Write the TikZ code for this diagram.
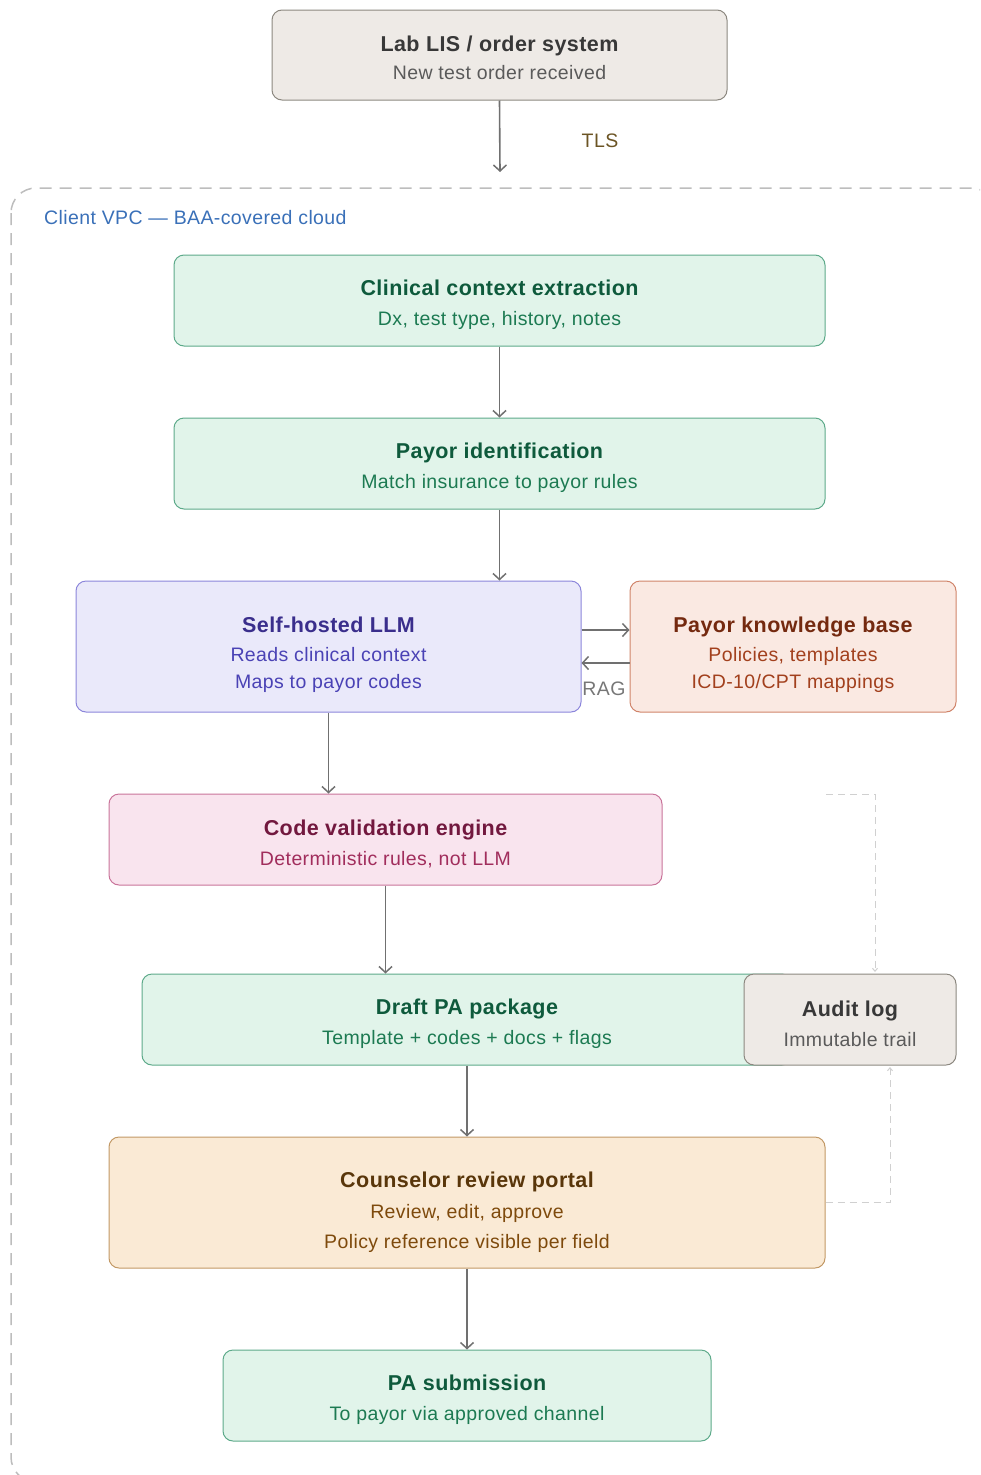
\documentclass[tikz,border=0pt]{standalone}
\usepackage{fontspec}
\setmainfont{Liberation Sans}
\newfontfamily\subfam[LetterSpace=2.0]{Liberation Sans}
\usetikzlibrary{arrows.meta}
\definecolor{labfill}{HTML}{EEEAE6}\definecolor{labdraw}{HTML}{8C8880}
\definecolor{labtitle}{HTML}{383838}\definecolor{labsub}{HTML}{5A5A5A}
\definecolor{grfill}{HTML}{E1F4EA}\definecolor{grdraw}{HTML}{5DAA8A}
\definecolor{grtitle}{HTML}{0E5A3C}\definecolor{grsub}{HTML}{1C7A52}
\definecolor{pufill}{HTML}{EAE9FA}\definecolor{pudraw}{HTML}{8C86DB}
\definecolor{putitle}{HTML}{3A2E8C}\definecolor{pusub}{HTML}{4A42B5}
\definecolor{orfill}{HTML}{FAE9E2}\definecolor{ordraw}{HTML}{D0846A}
\definecolor{ortitle}{HTML}{74290F}\definecolor{orsub}{HTML}{A2401D}
\definecolor{pkfill}{HTML}{F9E4EE}\definecolor{pkdraw}{HTML}{C9749A}
\definecolor{pktitle}{HTML}{72183E}\definecolor{pksub}{HTML}{A12D5C}
\definecolor{yefill}{HTML}{FAEAD5}\definecolor{yedraw}{HTML}{C29865}
\definecolor{yetitle}{HTML}{59360A}\definecolor{yesub}{HTML}{7E4A0C}
\definecolor{arrowgray}{HTML}{707070}\definecolor{vpcgray}{HTML}{BDBDBD}
\definecolor{auditgray}{HTML}{D0D0D0}\definecolor{tlscol}{HTML}{6B5424}
\definecolor{vpcblue}{HTML}{3A70B8}\definecolor{raggray}{HTML}{777777}
\newcommand{\ttl}{\fontsize{21.5}{30}\selectfont\bfseries\rule{0pt}{25pt}}
\newcommand{\ttla}{\fontsize{21.5}{30}\selectfont\bfseries\rule{0pt}{22pt}}
\newcommand{\ttlc}{\fontsize{21.5}{30}\selectfont\bfseries\rule{0pt}{33pt}}
\newcommand{\ttld}{\fontsize{21.5}{30}\selectfont\bfseries\rule{0pt}{36pt}}
\tikzset{
  box/.style={draw, rounded corners=10pt, line width=1pt, align=center, inner sep=0pt,
    font=\subfam\fontsize{19.5}{30}\selectfont},
  labbox/.style={box, fill=labfill, draw=labdraw},
  grbox/.style={box, fill=grfill, draw=grdraw},
  pubox/.style={box, fill=pufill, draw=pudraw},
  orbox/.style={box, fill=orfill, draw=ordraw},
  pkbox/.style={box, fill=pkfill, draw=pkdraw},
  yebox/.style={box, fill=yefill, draw=yedraw},
  lbl/.style={inner sep=0pt, font=\subfam\fontsize{19.5}{24}\selectfont},
  arr/.style={draw=arrowgray, line width=1.6pt, -{Straight Barb[length=6pt,width=13pt,line width=1.5pt]}},
  auditarr/.style={draw=auditgray, line width=1pt, dash pattern=on 7pt off 5pt, -{Straight Barb[length=3pt,width=5pt]}},
}
\begin{document}
\begin{tikzpicture}[x=1pt,y=-1pt]
\useasboundingbox (0,0) rectangle (980,1475);
\begin{scope}
\clip (0,0) rectangle (980,1475);
\draw[vpcgray, line width=1.5pt, dash pattern=on 12pt off 8pt, rounded corners=25pt] (11,188) rectangle (996,1482);
\end{scope}
\node[lbl, anchor=west, text=vpcblue] (vpclbl) at (44,218) {Client VPC — BAA-covered cloud};

\node[labbox, minimum width=455pt, minimum height=90pt] (lab) at (499.5,55)
  {{\ttla\color{labtitle}Lab LIS / order system}\\[-2pt]{\color{labsub}New test order received}};
\coordinate (vpcin) at (500,172);
\draw[arr] (lab.south) -- (vpcin);
\node[lbl, text=tlscol] (tls) at (600,141) {TLS};

\node[grbox, minimum width=651pt, minimum height=91pt] (cce) at (499.5,300.5)
  {{\ttl\color{grtitle}Clinical context extraction}\\{\color{grsub}Dx, test type, history, notes}};
\node[grbox, minimum width=651pt, minimum height=91pt] (pid) at (499.5,463.5)
  {{\ttl\color{grtitle}Payor identification}\\{\color{grsub}Match insurance to payor rules}};
\node[pubox, minimum width=505pt, minimum height=131pt] (llm) at (328.5,646.5)
  {{\ttlc\color{putitle}Self-hosted LLM}\\[-1pt]{\color{pusub}Reads clinical context}\\[-3pt]{\color{pusub}Maps to payor codes}};
\node[orbox, minimum width=326pt, minimum height=131pt] (kb) at (793,646.5)
  {{\ttlc\color{ortitle}Payor knowledge base}\\[-1pt]{\color{orsub}Policies, templates}\\[-3pt]{\color{orsub}ICD-10/CPT mappings}};
\node[pkbox, minimum width=553pt, minimum height=91pt] (cve) at (385.5,839.5)
  {{\ttl\color{pktitle}Code validation engine}\\{\color{pksub}Deterministic rules, not LLM}};
\node[grbox, minimum width=650pt, minimum height=91pt] (dpa) at (467,1019.5)
  {{\ttl\color{grtitle}Draft PA package}\\{\color{grsub}Template + codes + docs + flags}};
\node[labbox, minimum width=212pt, minimum height=91pt] (audit) at (850,1019.5)
  {{\ttl\color{labtitle}Audit log}\\{\color{labsub}Immutable trail}};
\node[yebox, minimum width=716pt, minimum height=131pt] (crp) at (467,1202.5)
  {{\ttld\color{yetitle}Counselor review portal}\\[1pt]{\color{yesub}Review, edit, approve}\\{\color{yesub}Policy reference visible per field}};
\node[grbox, minimum width=488pt, minimum height=91pt] (pas) at (467,1395.5)
  {{\ttl\color{grtitle}PA submission}\\{\color{grsub}To payor via approved channel}};

\draw[arr] (cce.south) -- (pid.north);
\draw[arr] (pid.south) -- (pid.south |- llm.north);
\draw[arr] ([yshift=16.5pt]llm.east) -- ([yshift=16.5pt]kb.west);
\draw[arr] ([yshift=-16.5pt]kb.west) -- ([yshift=-16.5pt]llm.east);
\node[lbl, text=raggray] (rag) at (604,689) {RAG};
\draw[arr] (llm.south) -- (llm.south |- cve.north);
\draw[arr] (cve.south) -- (cve.south |- dpa.north);
\draw[arr] (dpa.south) -- (crp.north);
\draw[arr] (crp.south) -- (pas.north);

\coordinate (auditsrc) at (826,794);
\draw[auditarr] (auditsrc) -- (875,794) -- (875 ,972);
\draw[auditarr] (crp.east |- 0,1202) -- (890,1202) -- (890,1067);
\end{tikzpicture}
\end{document}
